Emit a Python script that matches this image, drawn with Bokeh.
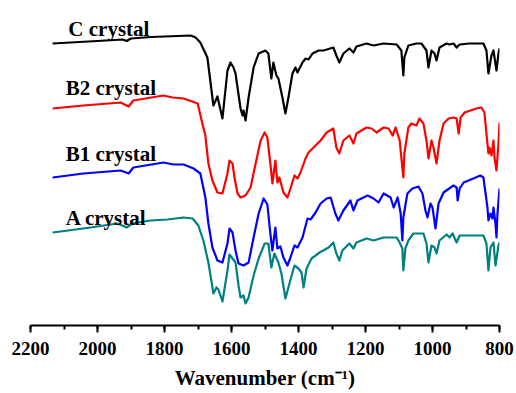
from bokeh.plotting import figure
from bokeh.models import Range1d, SingleIntervalTicker
from bokeh.core.properties import value
from bokeh.embed import file_html
from bokeh.resources import INLINE

# ---------------- data ----------------
c_wn = [2134, 2000, 1925, 1913, 1900, 1840, 1760, 1722, 1707, 1693, 1672, 1654, 1642, 1627, 1612,
        1603, 1594, 1588, 1573, 1567, 1564, 1558, 1549, 1534, 1519, 1499, 1490, 1481, 1475, 1466,
        1460, 1448, 1439, 1430, 1418, 1409, 1403, 1388, 1379, 1370, 1358, 1340, 1325, 1296, 1287,
        1278, 1266, 1248, 1236, 1227, 1197, 1176, 1146, 1107, 1093, 1087, 1084, 1072, 1048, 1033,
        1018, 1012, 1003, 994, 988, 979, 958, 949, 937, 928, 919, 890, 848, 839, 833,
        824, 818, 809, 803, 800]
c_val = [282, 284.5, 286, 284.5, 287, 288.5, 289.5, 290, 288, 283, 268, 220, 229, 207, 255,
         263, 258, 252, 217, 210, 215, 205, 228, 258, 272, 275, 272, 247, 263, 250,
         247, 228, 212, 228, 252, 258, 253, 263, 267, 266, 272, 275, 275, 278, 270,
         263, 272, 277, 273, 279, 282, 280, 282, 281, 275, 250, 268, 280, 282, 282,
         275, 258, 275, 272, 265, 278, 282, 281, 282, 278, 281, 282, 282, 275, 252,
         270, 275, 255, 272, 277]

b2_wn = [2134, 2042, 1931, 1907, 1893, 1803, 1776, 1743, 1701, 1687, 1678, 1669, 1657, 1642, 1627,
         1612, 1606, 1597, 1591, 1582, 1573, 1558, 1543, 1528, 1513, 1501, 1493, 1484, 1478, 1469,
         1463, 1457, 1445, 1433, 1424, 1412, 1403, 1394, 1379, 1370, 1349, 1334, 1316, 1296, 1287,
         1278, 1266, 1248, 1236, 1227, 1197, 1182, 1167, 1146, 1131, 1119, 1110, 1098, 1093, 1087,
         1084, 1072, 1063, 1048, 1039, 1027, 1018, 1012, 1003, 997, 988, 979, 967, 952, 937,
         928, 922, 916, 904, 869, 854, 845, 839, 833, 830, 824, 818, 815, 809, 803, 800]
b2_val = [217, 220, 223, 219, 225, 230, 228, 227, 222, 202, 190, 162, 145, 133, 132,
          152, 165, 162, 148, 132, 128, 130, 138, 162, 185, 193, 188, 162, 142, 165,
          143, 148, 133, 128, 137, 150, 147, 153, 167, 173, 180, 185, 193, 197, 178,
          172, 185, 190, 182, 192, 198, 197, 193, 198, 197, 190, 198, 185, 168, 148,
          172, 198, 202, 200, 207, 202, 185, 167, 185, 178, 162, 185, 202, 207, 208,
          207, 192, 208, 213, 217, 218, 213, 192, 172, 178, 170, 185, 168, 155, 182, 203]

b1_wn = [2134, 2042, 1931, 1907, 1893, 1803, 1773, 1743, 1713, 1693, 1678, 1669, 1657, 1642, 1627,
         1612, 1606, 1597, 1588, 1579, 1564, 1549, 1534, 1519, 1504, 1493, 1484, 1478, 1469, 1463,
         1454, 1445, 1433, 1424, 1412, 1403, 1388, 1373, 1364, 1349, 1334, 1316, 1304, 1290, 1281,
         1266, 1245, 1236, 1224, 1194, 1176, 1161, 1146, 1125, 1116, 1104, 1095, 1090, 1087, 1075,
         1060, 1042, 1030, 1021, 1015, 1006, 1000, 991, 982, 967, 946, 937, 928, 925, 919,
         907, 878, 857, 848, 836, 833, 827, 821, 818, 812, 809, 806, 800]
b1_val = [148, 152, 155, 152, 158, 163, 161, 161, 157, 152, 128, 102, 78, 65, 63,
          82, 97, 93, 75, 62, 60, 63, 88, 112, 127, 121, 92, 75, 98, 77,
          79, 68, 60, 68, 80, 78, 88, 107, 106, 113, 122, 127, 128, 112, 105,
          115, 125, 115, 125, 130, 127, 123, 132, 128, 118, 128, 112, 85, 108, 132,
          137, 139, 132, 115, 108, 122, 118, 97, 122, 133, 138, 140, 138, 125, 137,
          143, 147, 150, 148, 118, 105, 112, 107, 118, 102, 88, 112, 137]

a_wn = [2134, 2042, 1940, 1913, 1896, 1842, 1791, 1743, 1716, 1699, 1684, 1669, 1654, 1645, 1639,
        1627, 1612, 1606, 1597, 1588, 1579, 1573, 1564, 1558, 1549, 1534, 1519, 1501, 1490, 1481,
        1472, 1460, 1451, 1439, 1427, 1412, 1400, 1391, 1385, 1376, 1361, 1337, 1310, 1296, 1287,
        1278, 1269, 1248, 1236, 1227, 1197, 1176, 1146, 1107, 1098, 1090, 1087, 1081, 1072, 1057,
        1027, 1018, 1012, 1003, 994, 988, 979, 958, 949, 940, 928, 919, 890, 848, 839,
        833, 827, 818, 812, 803, 800]
a_val = [93, 97, 102, 98, 102, 105, 106, 108, 107, 100, 85, 63, 32, 38, 36,
         24, 55, 71, 67, 63, 40, 28, 30, 22, 28, 50, 67, 82, 82, 58,
         72, 63, 52, 27, 42, 60, 57, 53, 38, 57, 67, 73, 78, 83, 72,
         65, 75, 82, 77, 83, 87, 85, 88, 88, 83, 77, 55, 77, 85, 92,
         92, 82, 63, 80, 78, 72, 85, 91, 88, 92, 83, 90, 90, 90, 82,
         55, 78, 83, 60, 80, 83]

label_text = ["C crystal", "B2 crystal", "B1 crystal", "A crystal"]
label_x = [2087, 2095, 2095, 2095]
label_y = [297, 238, 172, 108]

x_ticks_interval = 200
x_start, x_end = 2200, 800

# ---------------- figure ----------------
SERIF = "Liberation Serif"

p = figure(frame_width=469, frame_height=325,
           x_range=Range1d(x_start, x_end), y_range=Range1d(0, 325),
           output_backend="svg", toolbar_location=None,
           y_axis_location=None,
           min_border_left=30, min_border_right=17, min_border_top=0, min_border_bottom=68)
p.outline_line_color = None
p.xgrid.visible = False
p.ygrid.visible = False
p.background_fill_color = "white"
p.border_fill_color = "white"

series = [(c_wn, c_val, "#000000"), (b2_wn, b2_val, "#FF0000"),
          (b1_wn, b1_val, "#0000FF"), (a_wn, a_val, "#008080")]
for wn, val, col in series:
    p.line(wn, val, line_color=col, line_width=2.2, line_join="round")

p.text(x=label_x, y=label_y, text=label_text,
       text_font=value(SERIF), text_font_style="bold", text_font_size="21px",
       text_align="left", text_baseline="alphabetic", text_color="black")

ax = p.xaxis[0]
ax.ticker = SingleIntervalTicker(interval=x_ticks_interval, num_minor_ticks=2)
ax.axis_line_width = 2
ax.axis_line_color = "black"
ax.major_tick_line_width = 2
ax.minor_tick_line_width = 2
ax.major_tick_in = 0
ax.major_tick_out = 7
ax.minor_tick_in = 0
ax.minor_tick_out = 4
ax.major_label_text_font = SERIF
ax.major_label_text_font_style = "bold"
ax.major_label_text_font_size = "19px"
ax.major_label_text_color = "black"
ax.major_label_standoff = 9
ax.axis_label = "Wavenumber (cm\u207b\u00b9)"
ax.axis_label_text_font = SERIF
ax.axis_label_text_font_style = "bold"
ax.axis_label_text_font_size = "21px"
ax.axis_label_text_color = "black"
ax.axis_label_standoff = 8

open("out.html", "w").write(file_html(p, INLINE))
